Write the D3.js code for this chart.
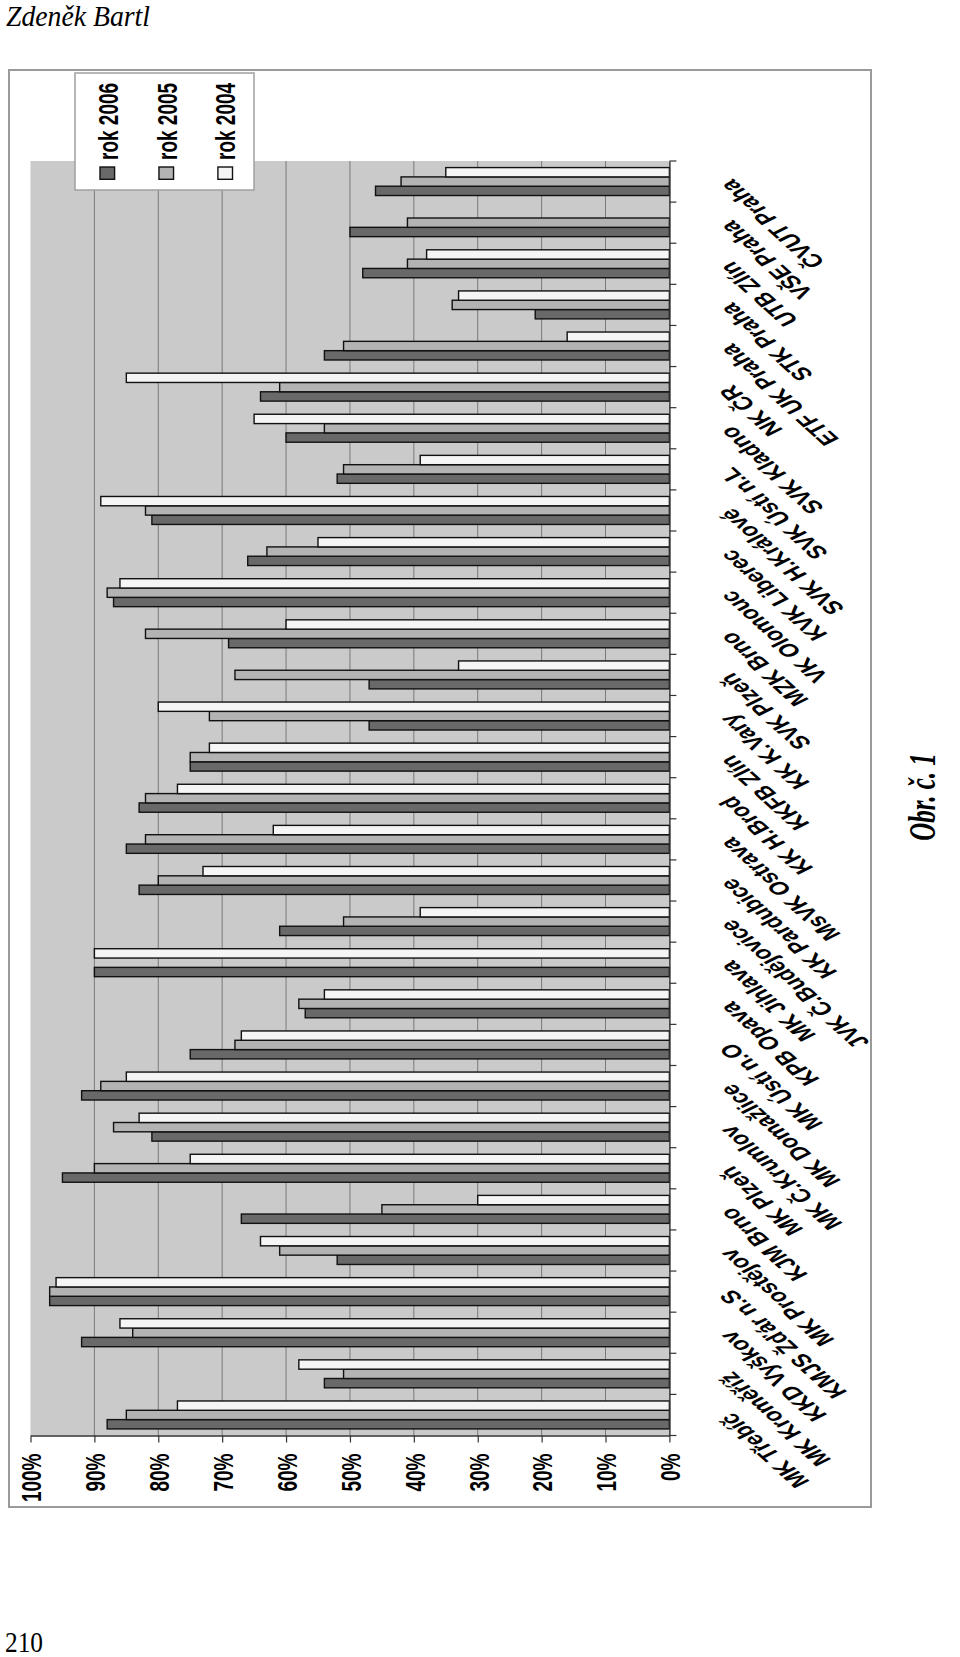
<!DOCTYPE html>
<html><head><meta charset="utf-8">
<script src="https://cdn.jsdelivr.net/npm/d3@7"></script>
<style>body{margin:0;background:#fff}</style>
</head><body>
<svg id="c" width="960" height="1657" xmlns="http://www.w3.org/2000/svg"></svg>
<script>
const categories = ["MK Třebíč","MK Kroměříž","KKD Vyškov","KMJS Žďár n.S","MK Prostějov","KJM Brno","MK Plzeň","MK Č.Krumlov","MK Domažlice","MK Ústí n.O","KPB Opava","MK Jihlava","JVK Č.Budějovice","KK Pardubice","MsVK Ostrava","KK H.Brod","KKFB Zlín","KK K.Vary","SVK Plzeň","MZK Brno","VK Olomouc","KVK Liberec","SVK H.Králové","SVK Ústí n.L","SVK Kladno","NK ČR","ETF UK Praha","STK Praha","UTB Zlín","VŠE Praha","ČVUT Praha"];
const rok2006 = [88,54,92,97,52,67,95,81,92,75,57,90,61,83,85,83,75,47,47,69,87,66,81,52,60,64,54,21,48,50,46];
const rok2005 = [85,51,84,97,61,45,90,87,89,68,58,null,51,80,82,82,75,72,68,82,88,63,82,51,54,61,51,34,41,41,42];
const rok2004 = [77,58,86,96,64,30,75,83,85,67,54,90,39,73,62,77,72,80,33,60,86,55,89,39,65,85,16,33,38,null,35];
const seriesNames = ["rok 2006","rok 2005","rok 2004"];
const valueTicks = [0,10,20,30,40,50,60,70,80,90,100];
const gridTicks = [10,20,30,40,50,60,70,80,90];

const seriesValues = [rok2006, rok2005, rok2004];
const colors = {"rok 2006":"#696969","rok 2005":"#b3b3b3","rok 2004":"#f5f5f5"};
const K = 1.5; // horizontal stretch of the rotated page
const svg = d3.select("#c");
const fontSans = "'Liberation Sans', Arial, sans-serif";
const fontSerif = "'Liberation Serif', 'Times New Roman', serif";

// page header / footer
svg.append("text").attr("x",6).attr("y",26).attr("font-family",fontSerif).attr("font-style","italic")
  .attr("font-size",30).attr("textLength",144).attr("lengthAdjust","spacingAndGlyphs")
  .attr("fill","#000").text("Zdeněk Bartl");
svg.append("text").attr("x",5).attr("y",1652).attr("font-family",fontSerif)
  .attr("font-size",30).attr("textLength",38).attr("lengthAdjust","spacingAndGlyphs")
  .attr("fill","#000").text("210");

// chart outer frame
svg.append("rect").attr("x",9).attr("y",70).attr("width",862).attr("height",1437)
  .attr("fill","#fff").attr("stroke","#9a9a9a").attr("stroke-width",2);

const plotTop = 161, plotBottom = 1435.5, plotLeft = 30.5, plotRight = 669.4;
const x = d3.scaleLinear().domain([0,100]).range([plotRight, plotLeft]);
const y = d3.scaleBand().domain(categories).range([plotBottom, plotTop]).paddingInner(0.32).paddingOuter(0.16);
const ySub = d3.scaleBand().domain(["rok 2004","rok 2005","rok 2006"]).range([0, y.bandwidth()]);

// plot background
svg.append("rect").attr("x",plotLeft).attr("y",plotTop).attr("width",plotRight-plotLeft)
  .attr("height",plotBottom-plotTop).attr("fill","#cacaca");

// gridlines
svg.append("g").selectAll("line").data(gridTicks).join("line")
  .attr("x1",d=>x(d)).attr("x2",d=>x(d)).attr("y1",plotTop).attr("y2",plotBottom)
  .attr("stroke","#7a7a7a").attr("stroke-width",1);

// bars
const rows = [];
categories.forEach((c,i)=>{
  seriesNames.forEach((s,j)=>{
    const v = seriesValues[j][i];
    if (v !== null) rows.push({cat:c, series:s, value:v});
  });
});
svg.append("g").selectAll("rect").data(rows).join("rect")
  .attr("x",d=>x(d.value)).attr("width",d=>x(0)-x(d.value))
  .attr("y",d=>y(d.cat)+ySub(d.series)).attr("height",ySub.bandwidth())
  .attr("fill",d=>colors[d.series]).attr("stroke","#111").attr("stroke-width",1.4);

// value axis (bottom of rotated chart)
const xAxis = svg.append("g").attr("transform",`translate(0,${plotBottom})`)
  .call(d3.axisBottom(x).tickValues(valueTicks).tickSize(7).tickSizeOuter(0).tickFormat(d=>d+"%"));
xAxis.select(".domain").attr("stroke","#333").attr("stroke-width",1.5);
xAxis.selectAll(".tick line").attr("stroke","#333").attr("stroke-width",1.2);
xAxis.selectAll(".tick text")
  .attr("x",0).attr("y",0).attr("dy","0.36em")
  .attr("transform",`translate(0,18) rotate(-90) scale(1,${K})`)
  .attr("text-anchor","end").attr("font-family",fontSans).attr("font-weight","bold")
  .attr("font-size",19).attr("fill","#000");

// category axis (right side of rotated chart)
const catAxis = svg.append("g").attr("transform",`translate(${plotRight},0)`)
  .call(d3.axisRight(y).tickValues([]).tickSizeOuter(0));
catAxis.select(".domain").attr("stroke","#333").attr("stroke-width",1.5);
const gap = y.step() - y.bandwidth();
const bounds = categories.map(c => y(c) + y.bandwidth() + gap/2).concat([y(categories[categories.length-1]) - gap/2]);
catAxis.selectAll("line.ctick").data(bounds).join("line").attr("class","ctick")
  .attr("x1",0).attr("x2",7).attr("y1",d=>d).attr("y2",d=>d)
  .attr("stroke","#333").attr("stroke-width",1.2);

// category labels
svg.append("g").selectAll("text").data(categories).join("text")
  .attr("transform",d=>`translate(733,${y(d)+y.bandwidth()/2-3}) scale(${K},1) rotate(-126.5)`)
  .attr("text-anchor","end").attr("font-family",fontSans).attr("font-weight","bold")
  .attr("font-size",18).attr("fill","#000").text(d=>d);

// legend
const lg = svg.append("g");
lg.append("rect").attr("x",75).attr("y",73).attr("width",179).attr("height",117)
  .attr("fill","#fff").attr("stroke","#a0a0a0").attr("stroke-width",1.5);
const lx = d3.scalePoint().domain(seriesNames).range([107.3,225.2]);
lg.selectAll("rect.sw").data(seriesNames).join("rect").attr("class","sw")
  .attr("x",d=>lx(d)-7.3).attr("y",167).attr("width",14.6).attr("height",12.3)
  .attr("fill",d=>colors[d]).attr("stroke","#111").attr("stroke-width",1.4);
lg.selectAll("text").data(seriesNames).join("text")
  .attr("transform",d=>`translate(${lx(d)},160) rotate(-90) scale(1,${K})`)
  .attr("dy","0.36em").attr("text-anchor","start").attr("font-family",fontSans)
  .attr("font-weight","bold").attr("font-size",19).attr("fill","#000").text(d=>d);

// caption
svg.append("text").attr("transform",`translate(922,797) rotate(-90) scale(1,${K})`)
  .attr("dy","0.35em").attr("text-anchor","middle").attr("font-family",fontSerif)
  .attr("font-style","italic").attr("font-weight","bold").attr("font-size",25)
  .attr("fill","#000").text("Obr. č. 1");
</script>
</body></html>
